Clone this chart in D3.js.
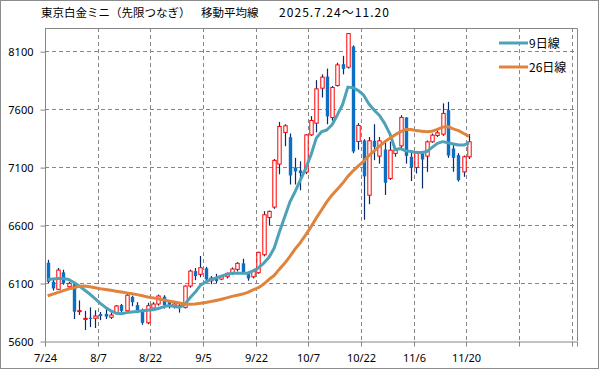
<!DOCTYPE html>
<html>

<head>
    <meta charset="utf-8">
    <title>東京白金ミニ 移動平均線</title>
    <script src="https://cdn.jsdelivr.net/npm/d3@7"></script>
    <style>
        body {
            margin: 0;
            background: #fff;
        }

        text {
            font-family: 'Noto Sans CJK JP', 'Noto Sans', sans-serif;
            fill: #000;
        }
    </style>
</head>

<body>
    <div id="visDiv"></div>
</body>
<script>
    /* Data */
    var opens = [6275, 6111, 6046, 6192, 6068, 6090, 5855, 5788, 5800, 5796,
        5833, 5833, 5804, 5839, 5910, 5861, 5980, 5910, 5865, 5757,
        5884, 5919, 5982, 5939, 5902, 5890, 5890, 6074, 6203, 6175,
        6227, 6120, 6146, 6134, 6154, 6184, 6218, 6270, 6189, 6154,
        6189, 6344, 6666, 6755, 7126, 7399, 7358, 7097, 7071, 7057,
        7378, 7479, 7781, 7881, 7528, 7804, 7988, 7962, 8140, 7321,
        7330, 6858, 7327, 7195, 7252, 7002, 7218, 7283, 7528, 7189,
        7097, 7218, 7195, 7318, 7373, 7384, 7591, 7260, 7203, 7059,
        7189];
    var highs = [6300, 6140, 6230, 6215, 6110, 6100, 5950, 5860, 5890, 5865,
        5850, 5880, 5845, 5910, 5920, 6005, 5990, 5935, 5880, 5930,
        5935, 6000, 5995, 5950, 5930, 5925, 6080, 6215, 6230, 6333,
        6240, 6160, 6180, 6170, 6190, 6235, 6280, 6310, 6200, 6210,
        6370, 6720, 6725, 7170, 7490, 7470, 7390, 7180, 7150, 7385,
        7540, 7850, 7900, 7950, 7800, 8000, 8060, 8252, 8150, 7480,
        7340, 7360, 7470, 7360, 7330, 7320, 7260, 7548, 7530, 7240,
        7240, 7240, 7330, 7390, 7420, 7650, 7663, 7290, 7220, 7200,
        7385];
    var lows = [6100, 6035, 6040, 6085, 6055, 5790, 5825, 5695, 5720, 5712,
        5780, 5790, 5790, 5830, 5845, 5850, 5900, 5840, 5740, 5745,
        5870, 5905, 5880, 5880, 5880, 5845, 5880, 6060, 6125, 6150,
        6100, 6090, 6100, 6125, 6140, 6170, 6200, 6180, 6120, 6140,
        6180, 6330, 6600, 6740, 7038, 7280, 6950, 6950, 6900, 7040,
        7370, 7400, 7700, 7470, 7500, 7795, 7900, 7950, 7220, 7250,
        6646, 6780, 7160, 7130, 6860, 6990, 7190, 7250, 7130, 6980,
        7045, 6916, 7059, 7310, 7360, 7370, 7180, 7060, 6975, 7016,
        7170];
    var closes = [6110, 6054, 6212, 6097, 6097, 5853, 5862, 5795, 5790, 5815,
        5815, 5810, 5824, 5902, 5860, 5995, 5935, 5865, 5757, 5905,
        5919, 5988, 5910, 5896, 5919, 5902, 6074, 6203, 6160, 6232,
        6132, 6143, 6117, 6154, 6184, 6221, 6270, 6189, 6140, 6203,
        6365, 6689, 6718, 7158, 7451, 7456, 7028, 7063, 7048, 7378,
        7502, 7775, 7876, 7537, 7787, 7982, 7947, 8252, 7235, 7459,
        7020, 7327, 7275, 7327, 6965, 7246, 7246, 7528, 7197, 7097,
        7232, 7166, 7318, 7376, 7396, 7563, 7200, 7180, 6988, 7189,
        7318];
    var ma9 = [6130, 6135, 6140, 6140, 6130, 6105, 6075, 6040, 6005, 5965,
        5925, 5890, 5860, 5840, 5835, 5845, 5850, 5855, 5860, 5865,
        5870, 5880, 5895, 5905, 5900, 5890, 5915, 5970, 6020, 6080,
        6110, 6130, 6145, 6160, 6175, 6185, 6185, 6185, 6185, 6205,
        6230, 6270, 6320, 6400, 6540, 6670, 6800, 6890, 6990, 7090,
        7205, 7350, 7405, 7420, 7465, 7550, 7640, 7790, 7785, 7760,
        7720, 7645, 7590, 7545, 7475, 7385, 7250, 7260, 7240, 7235,
        7225, 7225, 7235, 7270, 7305, 7320, 7310, 7300, 7290, 7290,
        7310];
    var ma26 = [5990, 6005, 6020, 6035, 6050, 6060, 6072, 6075, 6068, 6060,
        6050, 6045, 6038, 6030, 6022, 6015, 6008, 6000, 5990, 5980,
        5972, 5965, 5955, 5945, 5937, 5928, 5920, 5918, 5920, 5925,
        5932, 5940, 5950, 5960, 5972, 5985, 5995, 6005, 6020, 6040,
        6060, 6090, 6130, 6165, 6220, 6270, 6330, 6395, 6450, 6515,
        6585, 6660, 6730, 6800, 6860, 6910, 6960, 7020, 7068, 7110,
        7150, 7200, 7240, 7280, 7318, 7350, 7380, 7405, 7425, 7425,
        7415, 7410, 7405, 7410, 7425, 7445, 7450, 7430, 7415, 7390,
        7365];
    var tickLabels = ["7/24", "8/7", "8/22", "9/5", "9/22", "10/7", "10/22", "11/6", "11/20"];
    var yTicks = [5600, 6100, 6600, 7100, 7600, 8100];
    var legendNames = ["9日線", "26日線"];

    /* Layout constants */
    var W = 599, H = 369;
    var plot = { left: 45, right: 577, top: 28, bottom: 341 };
    var slots = 101; // 10 trading days per grid column, one spare column at the right
    var gridColor = "#868686";

    var svg = d3.select("#visDiv")
        .append("svg")
        .attr("width", W)
        .attr("height", H);

    svg.append("rect")
        .attr("x", 0.5).attr("y", 0.5)
        .attr("width", W - 1).attr("height", H - 1)
        .attr("fill", "#fff")
        .attr("stroke", "#8c8c8c");

    /* Scales */
    var x = d3.scaleBand()
        .domain(d3.range(slots))
        .range([plot.left, plot.right])
        .paddingInner(0).paddingOuter(0);
    var y = d3.scaleLinear()
        .domain([5600, 8300])
        .range([plot.bottom, plot.top]);

    var data = closes.map(function (c, i) {
        return { i: i, o: opens[i], h: highs[i], l: lows[i], c: c, m9: ma9[i], m26: ma26[i] };
    });
    var gridIdx = d3.range(0, slots, 10);

    /* Grid */
    svg.append("g")
        .selectAll("line")
        .data(yTicks.slice(1))
        .enter()
        .append("line")
        .attr("x1", plot.left).attr("x2", plot.right)
        .attr("y1", function (d) { return Math.round(y(d)) + 0.5 })
        .attr("y2", function (d) { return Math.round(y(d)) + 0.5 })
        .attr("stroke", gridColor)
        .attr("stroke-dasharray", "4,3");
    svg.append("g")
        .selectAll("line")
        .data(gridIdx.slice(1))
        .enter()
        .append("line")
        .attr("x1", function (d) { return Math.round(x(d)) + 0.5 })
        .attr("x2", function (d) { return Math.round(x(d)) + 0.5 })
        .attr("y1", plot.top).attr("y2", plot.bottom)
        .attr("stroke", gridColor)
        .attr("stroke-dasharray", "4,3");

    // plot frame (top and right)
    svg.append("path")
        .attr("d", "M" + plot.left + "," + (plot.top + 0.5) + "H" + (plot.right + 0.5) + "V" + plot.bottom)
        .attr("fill", "none")
        .attr("stroke", gridColor);

    /* Axes */
    var yAxis = d3.axisLeft(y)
        .tickValues(yTicks)
        .tickSize(5)
        .tickPadding(7)
        .tickFormat(d3.format("d"));
    var gy = svg.append("g")
        .attr("transform", "translate(" + (plot.left + 0.5) + ",0.5)")
        .call(yAxis);

    var xAxis = d3.axisBottom(x)
        .tickValues(gridIdx)
        .tickSize(5)
        .tickPadding(8)
        .tickFormat(function (d) { return tickLabels[d / 10] || "" });
    var gx = svg.append("g")
        .attr("transform", "translate(0," + (plot.bottom + 0.5) + ")")
        .call(xAxis);
    // put the ticks on the slot edges instead of the slot centres
    gx.selectAll(".tick")
        .attr("transform", function (d) { return "translate(" + (Math.round(x(d)) + 0.5) + ",0)" });

    [gx, gy].forEach(function (g) {
        g.select(".domain").attr("stroke", gridColor);
        g.selectAll(".tick line").attr("stroke", gridColor);
        g.selectAll(".tick text")
            .style("font-family", "'Noto Sans', 'DejaVu Sans', sans-serif")
            .style("font-size", "11px")
            .attr("fill", "#000");
    });
    gy.select(".domain").attr("d", "M0," + plot.top + "V" + plot.bottom);

    /* Candles */
    var bw = 3.4;
    var cx = function (d) { return x(d.i) + x.bandwidth() / 2 };
    var candles = svg.append("g");
    candles.selectAll("line")
        .data(data)
        .enter()
        .append("line")
        .attr("x1", function (d) { return Math.round(cx(d)) + 0.5 })
        .attr("x2", function (d) { return Math.round(cx(d)) + 0.5 })
        .attr("y1", function (d) { return y(d.h) })
        .attr("y2", function (d) { return y(d.l) })
        .attr("stroke", "#0b2a6b")
        .attr("stroke-width", 1.2);
    candles.selectAll("rect")
        .data(data)
        .enter()
        .append("rect")
        .attr("x", function (d) { return Math.round(cx(d)) + 0.5 - bw / 2 })
        .attr("width", bw)
        .attr("y", function (d) { return y(Math.max(d.o, d.c)) })
        .attr("height", function (d) { return Math.max(1, Math.abs(y(d.o) - y(d.c))) })
        .attr("fill", function (d) { return d.c >= d.o ? "#fff" : "#0d6fc4" })
        .attr("stroke", function (d) { return d.c >= d.o ? "#ff0000" : "none" })
        .attr("stroke-width", 1);

    /* Moving averages */
    var lineColors = ["#4ea2b8", "#e0843d"];
    [ma9, ma26].forEach(function (series, k) {
        svg.append("path")
            .datum(series)
            .attr("fill", "none")
            .attr("stroke", lineColors[k])
            .attr("stroke-width", 3)
            .attr("stroke-linejoin", "round")
            .attr("d", d3.line()
                .x(function (d, i) { return x(i) + x.bandwidth() / 2 })
                .y(function (d) { return y(d) }));
    });

    /* Legend */
    var legend = svg.append("g");
    legendNames.forEach(function (name, k) {
        var ly = 43 + k * 24;
        legend.append("line")
            .attr("x1", 499).attr("x2", 528)
            .attr("y1", ly).attr("y2", ly)
            .attr("stroke", lineColors[k])
            .attr("stroke-width", 3);
        legend.append("text")
            .attr("x", 529).attr("y", ly + 4.5)
            .style("font-size", "12px")
            .text(name);
    });

    /* Title */
    var title = svg.append("g").style("font-size", "11.5px");
    title.append("text").attr("x", 41).attr("y", 17).text("東京白金ミニ（先限つなぎ）");
    title.append("text").attr("x", 201).attr("y", 17).text("移動平均線");
    title.append("text").attr("x", 279).attr("y", 17)
        .style("font-size", "12px")
        .attr("textLength", 110)
        .text("2025.7.24～11.20");
</script>

</html>
